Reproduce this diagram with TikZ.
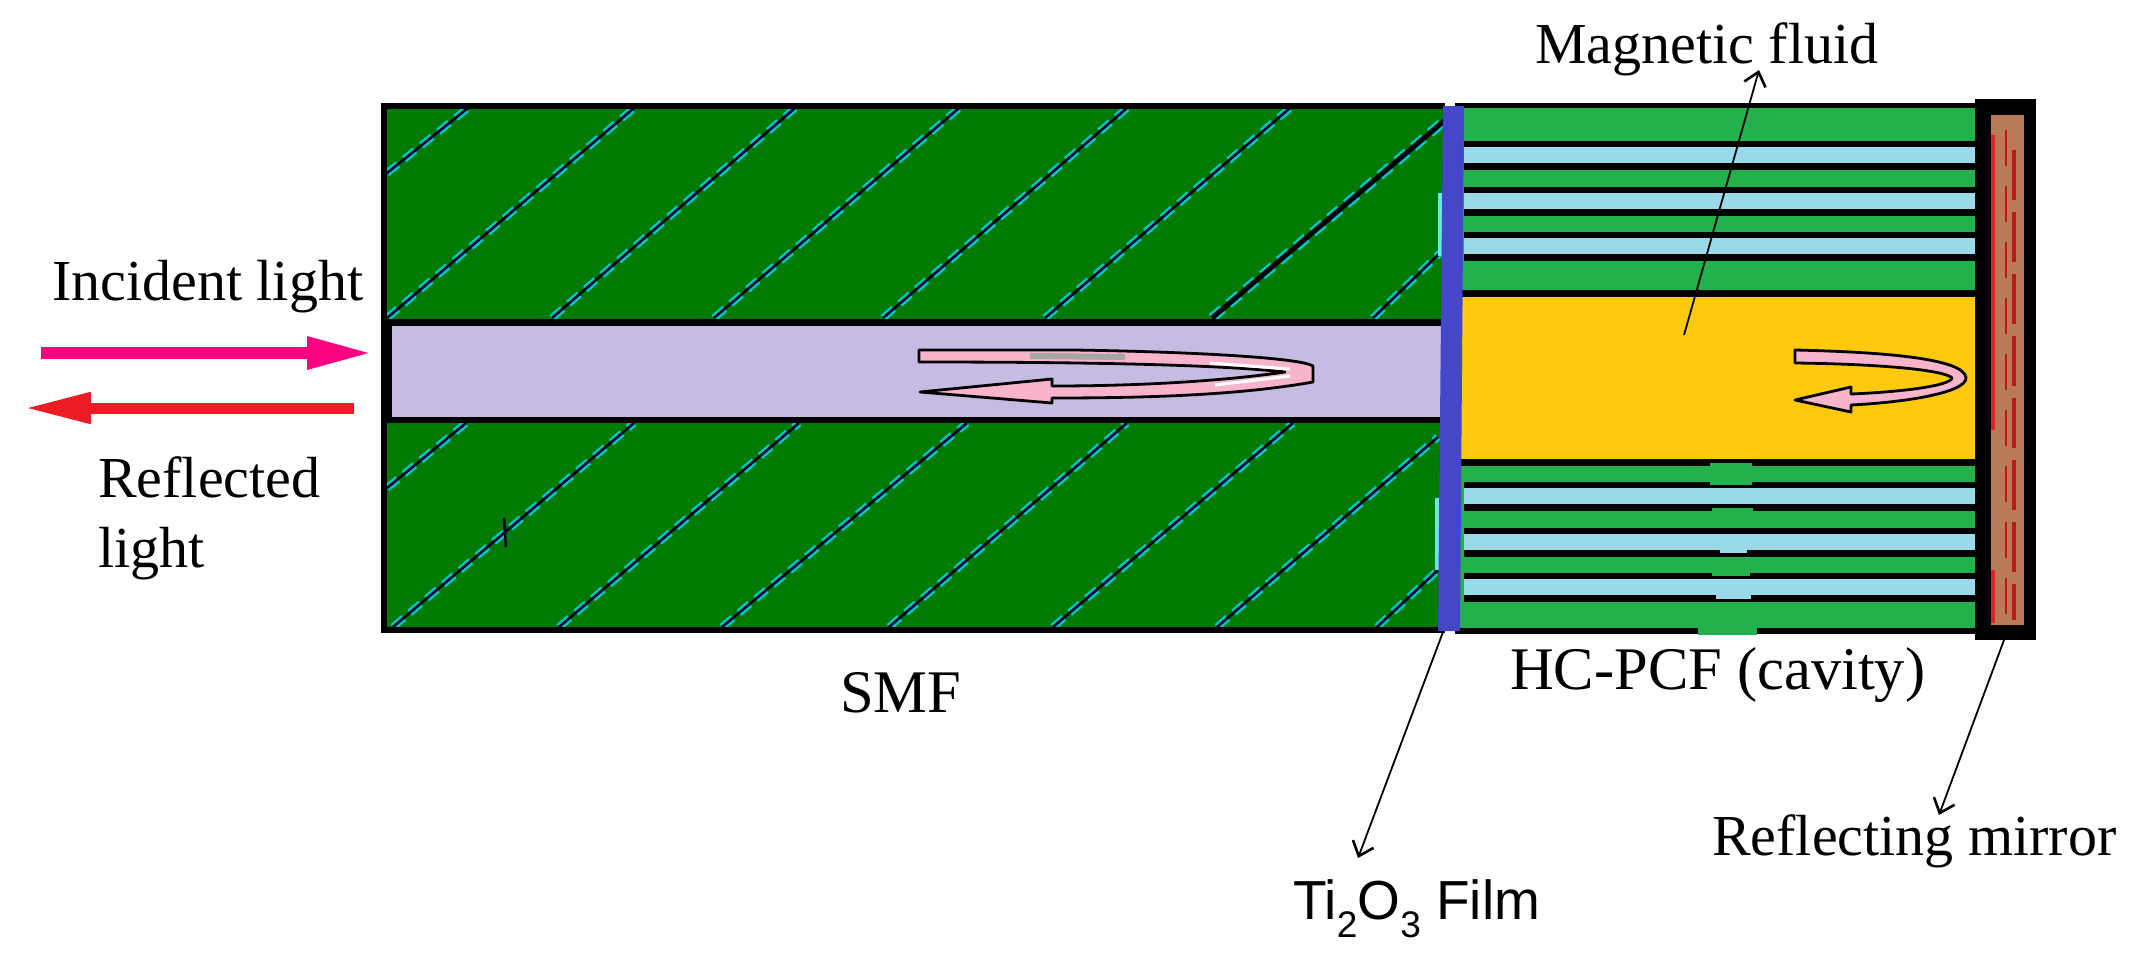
\documentclass[tikz,border=0pt]{standalone}
\usepackage{fontspec}
\setmainfont{Liberation Serif}
\newfontfamily\labelsans{Liberation Sans}
\usetikzlibrary{arrows.meta}
\definecolor{smfgreen}{HTML}{007A00}
\definecolor{hatchcyan}{HTML}{00C8C8}
\definecolor{claddinggreen}{HTML}{22B14C}
\definecolor{holeblue}{HTML}{99D9EA}
\definecolor{corelilac}{HTML}{C5BBE3}
\definecolor{fluidyellow}{HTML}{FFC90E}
\definecolor{filmblue}{HTML}{4547C8}
\definecolor{mirrorbrown}{HTML}{B97A57}
\definecolor{beampink}{HTML}{FF0080}
\definecolor{beamred}{HTML}{ED1C24}
\definecolor{loopink}{HTML}{F8B4CC}
\newcommand{\lowdigit}[1]{\raisebox{-18pt}{\fontsize{37}{40}\selectfont #1}}
\tikzset{
	labeltext/.style={anchor=base west,inner sep=0pt,font=\fontsize{58}{70}\selectfont},
	labelbig/.style={anchor=base west,inner sep=0pt,font=\fontsize{60.5}{70}\selectfont},
	labelfilm/.style={anchor=base west,inner sep=0pt,font=\labelsans\fontsize{55}{70}\selectfont},
	hatch/.style={line width=2.6pt,draw=black!85!blue,preaction={draw=hatchcyan,line width=7.5pt,dash pattern=on 14pt off 8pt}},
	hatchheavy/.style={line width=5pt,draw=black,preaction={draw=hatchcyan,line width=10pt,dash pattern=on 14pt off 8pt}},
	leader/.style={line width=1.8pt,-{Straight Barb[length=13pt,width=22pt,line width=2.6pt]}},
	looparrow/.style={fill=loopink,draw=black,line width=2.8pt,line join=round}
}
\begin{document}
\begin{tikzpicture}[x=1pt,y=-1pt]
	\useasboundingbox (0,0) rectangle (2142,962);

	% SMF
	\fill[smfgreen] (384,105) rectangle (1445,630);
	\foreach \xa/\ya/\xb/\yb in {387/173/468/108,387/318/634/108,552/318/795/108,714/318/959/108,883/318/1127/108,1045/318/1290/108,1373/318/1440/253,
		387/488/466/423,393/627/634/423,559/627/799/423,722/627/967/423,889/627/1127/423,1053/627/1293/423,1217/627/1438/437,1377/627/1438/570}
		\draw[hatch] (\xa,\ya) -- (\xb,\yb);
	\draw[hatchheavy] (1212,318) -- (1457,110);
	\draw[line width=2.5pt,black!85!blue] (504,518) -- (506,547);
	\fill[black] (385,319) rectangle (1445,423);
	\fill[corelilac] (392,326) rectangle (1445,417);
	\draw[line width=6pt] (1445,105.5) -- (383.5,105.5) -- (383.5,630) -- (1445,630);

	% HC-PCF
	\fill[claddinggreen] (1455,105) rectangle (1975,634);
	\fill[black] (1455,103) rectangle (1975,108);
	\fill[black] (1455,628) rectangle (1975,634);
	\foreach \y in {147,193,238,488,534,579} {
		\fill[black] (1464,\y-6.5) rectangle (1975,\y+22.5);
		\fill[holeblue] (1464,\y) rectangle (1975,\y+16);
	}
	\fill[black] (1455,290) rectangle (1975,466);
	\fill[fluidyellow] (1455,297) rectangle (1975,459);
	\foreach \xa/\ya/\xb/\yb in {1710/463/1752/485,1712/508/1753/528,1712/557/1750/576,1698/603/1757/635}
		\fill[claddinggreen] (\xa,\ya) rectangle (\xb,\yb);
	\foreach \xa/\ya/\xb/\yb in {1720/534/1747/553,1716/579/1751/599}
		\fill[holeblue] (\xa,\ya) rectangle (\xb,\yb);

	% film
	\fill[holeblue!70!cyan] (1438,193) rectangle (1443,256);
	\fill[holeblue!70!cyan] (1435,498) rectangle (1439,570);
	\fill[filmblue] (1443,106) -- (1464,106) -- (1460,631) -- (1438,631) -- cycle;

	% mirror
	\fill[black] (1975,99) rectangle (2036,640);
	\fill[mirrorbrown] (1991,115) rectangle (2024,625);
	\draw[line width=4pt,beamred] (1993,135) -- (1993,430);
	\draw[line width=4pt,beamred] (1993,570) -- (1993,623);
	\draw[line width=3.5pt,beamred!80!black,dash pattern=on 50pt off 12pt] (2014,150) -- (2014,620);
	\draw[line width=2.5pt,beamred!80!black,dash pattern=on 36pt off 20pt] (2006,130) -- (2006,620);

	% loops
	\draw[looparrow] (919,350) -- (1075,350) .. controls (1200,352) and (1300,358) .. (1313,366) -- (1313,382)
		.. controls (1240,395) and (1150,398) .. (1052,398) -- (1052,403) -- (920,392) -- (1052,379) -- (1052,386)
		.. controls (1150,386) and (1230,380) .. (1285,372) .. controls (1220,365) and (1100,362) .. (919,362) -- cycle;
	\draw[line width=6pt,black!35] (1030,356) -- (1125,357);
	\draw[line width=3pt,white] (1210,363) -- (1290,369);
	\draw[line width=3pt,white] (1215,385) -- (1290,376);
	\draw[looparrow] (1795,350) .. controls (1880,352) and (1965,358) .. (1966,378) .. controls (1966,392) and (1910,402) .. (1851,405)
		-- (1851,412) -- (1795,400) -- (1851,387) -- (1851,394) .. controls (1900,392) and (1950,386) .. (1952,378)
		.. controls (1945,370) and (1880,364) .. (1795,363) -- cycle;

	% beams
	\coordinate (incidentstart) at (41,353);
	\coordinate (incidenttip) at (373,353);
	\coordinate (reflectstart) at (354,408);
	\coordinate (reflecttip) at (24,408);
	\draw[line width=12pt,beampink,-{Triangle[length=66pt,width=30pt]}] (incidentstart) -- (incidenttip);
	\draw[line width=11pt,beamred,-{Triangle[length=67pt,width=29pt]}] (reflectstart) -- (reflecttip);

	% labels
	\node[labeltext] at (52,300) (incident) {Incident light};
	\node[labeltext] at (98,497) (reflected) {Reflected};
	\node[labeltext] at (98,567) (reflectedb) {light};
	\node[labelbig] at (840,712) (smf) {SMF};
	\node[labeltext] at (1535,63) (fluid) {Magnetic fluid};
	\node[labelbig] at (1510,689) (cavity) {HC-PCF (cavity)};
	\node[labeltext] at (1712,855) (mirror) {Reflecting mirror};
	\node[labelfilm] at (1293,919) (film) {Ti\lowdigit{2}O\lowdigit{3} Film};

	\coordinate (fluidend) at (1684,335);
	\coordinate (fluidtip) at (1759,70);
	\coordinate (filmend) at (1443,632);
	\coordinate (filmtip) at (1358,858);
	\coordinate (mirrorend) at (2004,640);
	\coordinate (mirrortip) at (1939,815);
	\draw[leader] (fluidend) -- (fluidtip);
	\draw[leader] (filmend) -- (filmtip);
	\draw[leader] (mirrorend) -- (mirrortip);
\end{tikzpicture}
\end{document}
